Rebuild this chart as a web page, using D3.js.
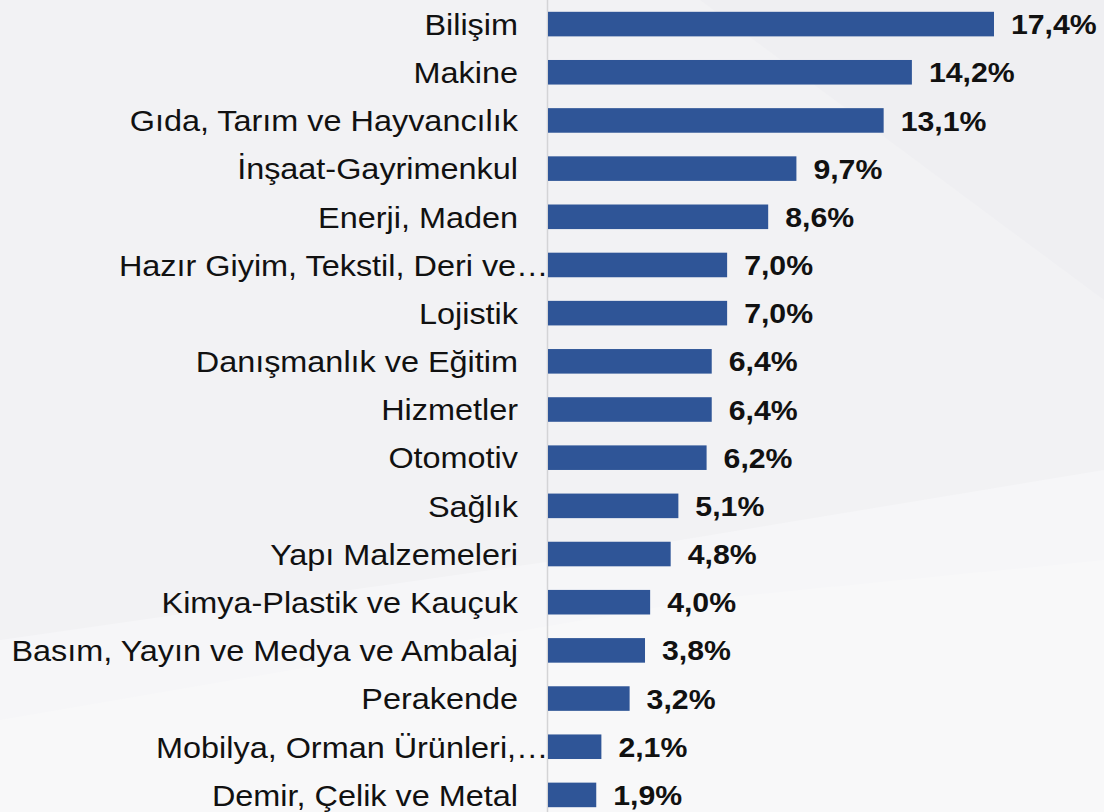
<!DOCTYPE html>
<html>
<head>
<meta charset="utf-8">
<script src="https://cdn.jsdelivr.net/npm/d3@7"></script>
<style>
  html, body { margin: 0; padding: 0; background: #f3f3f5; }
  svg { display: block; }
</style>
</head>
<body>
<div id="chart"></div>
<script>
// sectors and shares (%)
const categories = [
    'Bilişim', 'Makine', 'Gıda, Tarım ve Hayvancılık', 'İnşaat-Gayrimenkul',
    'Enerji, Maden', 'Hazır Giyim, Tekstil, Deri ve…', 'Lojistik',
    'Danışmanlık ve Eğitim', 'Hizmetler', 'Otomotiv', 'Sağlık',
    'Yapı Malzemeleri', 'Kimya-Plastik ve Kauçuk',
    'Basım, Yayın ve Medya ve Ambalaj', 'Perakende',
    'Mobilya, Orman Ürünleri,…', 'Demir, Çelik ve Metal'
];
const values = [17.4, 14.2, 13.1, 9.7, 8.6, 7.0, 7.0, 6.4, 6.4, 6.2, 5.1, 4.8, 4.0, 3.8, 3.2, 2.1, 1.9];
const valueLabels = values.map(v => v.toFixed(1).replace('.', ',') + '%');

var width = 1104;
var height = 812;
var axisX = 547.5;
var stretch = 1.08; // text in the original is slightly wide

var svg = d3.select('#chart')
    .append('svg')
    .attr('width', width)
    .attr('height', height);

// faint background shapes
var bg = svg.append('g');
bg.append('rect').attr('width', width).attr('height', height).attr('fill', '#f2f2f4');
bg.append('polygon')
    .attr('points', '0,812 0,640 560,560 1104,470 1104,812')
    .attr('fill', '#f6f6f8');
bg.append('polygon')
    .attr('points', '0,812 0,720 700,600 1104,560 1104,812')
    .attr('fill', '#f8f8f9');
bg.append('polygon')
    .attr('points', '700,0 1104,0 1104,300')
    .attr('fill', '#efeff2');

var x = d3.scaleLinear()
    .domain([0, 17.4])
    .range([axisX, 994]);

var y = d3.scaleBand()
    .domain(categories)
    .range([0, 819])
    .paddingInner(0.49)
    .paddingOuter(0.245);

// axis line
svg.append('line')
    .attr('x1', axisX).attr('x2', axisX)
    .attr('y1', 0).attr('y2', height)
    .attr('stroke', '#d4d4d6')
    .attr('stroke-width', 1.5);

svg.selectAll('rect.bar')
    .data(values)
    .enter()
    .append('rect')
    .attr('class', 'bar')
    .attr('x', x(0) + 0.5)
    .attr('y', (d, i) => y(categories[i]))
    .attr('width', d => x(d) - x(0) - 0.5)
    .attr('height', y.bandwidth())
    .attr('fill', '#2f5597');

// category labels
svg.selectAll('text.cat')
    .data(categories)
    .enter()
    .append('text')
    .attr('class', 'cat')
    .attr('transform', d => 'translate(' + (d.endsWith('…') ? axisX + 1 : 518) + ',' +
        (y(d) + y.bandwidth() / 2) + ') scale(' + stretch + ',1)')
    .attr('dy', '0.36em')
    .attr('text-anchor', 'end')
    .style('font-family', 'Liberation Sans, Arial, sans-serif')
    .style('font-size', '30px')
    .attr('fill', '#111')
    .text(d => d);

// value labels
svg.selectAll('text.val')
    .data(values)
    .enter()
    .append('text')
    .attr('class', 'val')
    .attr('transform', (d, i) => 'translate(' + (x(d) + 17) + ',' +
        (y(categories[i]) + y.bandwidth() / 2) + ') scale(' + stretch + ',1)')
    .attr('dy', '0.36em')
    .style('font-family', 'Liberation Sans, Arial, sans-serif')
    .style('font-size', '28px')
    .style('font-weight', 'bold')
    .attr('fill', '#111')
    .text((d, i) => valueLabels[i]);
</script>
</body>
</html>
